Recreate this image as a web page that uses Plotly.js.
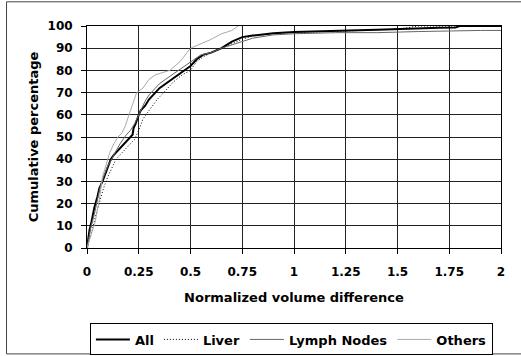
<!DOCTYPE html>
<html><head><meta charset="utf-8">
<script src="https://cdn.plot.ly/plotly-3.0.1.min.js"></script>
<style>html,body{margin:0;padding:0;background:#fff;}#chart{width:521px;height:356px;}</style>
</head><body><div id="chart"></div>
<script>
// All
const allX = [0, 0.005, 0.012, 0.02, 0.035, 0.05, 0.06, 0.075, 0.09, 0.1, 0.115, 0.13, 0.15, 0.17, 0.19, 0.21, 0.22, 0.225, 0.235, 0.25, 0.26, 0.28, 0.3, 0.32, 0.35, 0.38, 0.41, 0.44, 0.47, 0.5, 0.53, 0.56, 0.6, 0.65, 0.7, 0.75, 0.8, 0.85, 0.9, 1.0, 1.1, 1.2, 1.3, 1.4, 1.55, 1.6, 1.7, 1.78, 1.8, 1.9, 2.0];
const allY = [0, 4, 8, 11, 18, 23, 27, 30, 34, 37, 40, 42, 44, 46, 48, 50, 51, 54, 56, 60, 62, 64, 67, 69, 72, 74, 76, 78, 80, 82, 85, 87, 88, 90, 93, 95, 95.7, 96.3, 96.7, 97.3, 97.5, 98, 98, 98.3, 98.8, 99, 99.2, 99.3, 100, 100, 100];
// Liver
const liverX = [0, 0.01, 0.025, 0.04, 0.06, 0.08, 0.1, 0.12, 0.14, 0.17, 0.2, 0.23, 0.25, 0.27, 0.3, 0.34, 0.38, 0.42, 0.46, 0.5, 0.53, 0.56, 0.6, 0.65, 0.7, 0.75, 0.8, 0.9, 1.0, 1.2, 1.4, 1.5, 1.6, 1.75, 2.0];
const liverY = [0, 3, 8, 14, 21, 27, 32, 36, 40, 43, 46, 49, 53, 58, 62, 67, 71, 75, 78, 80, 84, 86, 88, 90, 92, 94, 95.5, 96.5, 97, 97.5, 98, 98.5, 100, 100, 100];
// Lymph Nodes
const lymphX = [0, 0.01, 0.02, 0.035, 0.05, 0.065, 0.08, 0.1, 0.12, 0.13, 0.16, 0.19, 0.21, 0.23, 0.25, 0.28, 0.3, 0.32, 0.35, 0.38, 0.41, 0.44, 0.47, 0.5, 0.55, 0.6, 0.65, 0.7, 0.75, 0.8, 0.9, 1.0, 1.2, 1.4, 1.6, 1.8, 1.9, 2.0];
const lymphY = [0, 5, 10, 15, 22, 28, 32, 37, 40, 42, 47, 51, 53, 56, 60, 66, 69, 71, 74, 76, 78, 80, 82, 84, 87, 88, 90, 91.5, 93, 94.5, 96, 96.5, 97, 97, 97.5, 98, 98, 98];
// Others
const othersX = [0, 0.01, 0.02, 0.03, 0.04, 0.05, 0.06, 0.075, 0.09, 0.11, 0.13, 0.15, 0.17, 0.185, 0.21, 0.24, 0.27, 0.3, 0.33, 0.36, 0.4, 0.45, 0.5, 0.55, 0.6, 0.65, 0.7, 0.73];
const othersY = [0, 3, 7, 10, 12, 17, 22, 32, 37, 43, 47, 50, 52, 55, 62, 70, 72, 76, 78, 79, 80, 84, 90, 92, 94, 96.5, 98, 100];

const xTicks = [0, 0.25, 0.5, 0.75, 1, 1.25, 1.5, 1.75, 2];
const xTickText = ['0', '0.25', '0.5', '0.75', '1', '1.25', '1.5', '1.75', '2'];
const yTicks = [0, 10, 20, 30, 40, 50, 60, 70, 80, 90, 100];

const F = 'DejaVu Sans, sans-serif';
const traces = [
  {x: allX, y: allY, name: 'All', mode: 'lines', line: {color: '#000', width: 2}},
  {x: liverX, y: liverY, name: 'Liver', mode: 'lines', line: {color: '#000', width: 1, dash: '1px,2px'}},
  {x: lymphX, y: lymphY, name: 'Lymph Nodes', mode: 'lines', line: {color: '#666', width: 1}},
  {x: othersX, y: othersY, name: 'Others', mode: 'lines', line: {color: '#aaa', width: 1}}
];
const layout = {
  width: 521, height: 356,
  margin: {l: 87, r: 20, t: 26, b: 108, autoexpand: false},
  paper_bgcolor: '#fff', plot_bgcolor: '#fff',
  font: {family: F, size: 12, color: '#000', weight: 'bold'},
  showlegend: true,
  legend: {orientation: 'h', x: 0.007, xanchor: 'left', y: -0.34, yanchor: 'top',
           bgcolor: '#fff', bordercolor: '#000', borderwidth: 1, itemwidth: 34,
           font: {family: F, size: 13, color: '#000', weight: 'bold'}},
  xaxis: {range: [0, 2], tickvals: xTicks, ticktext: xTickText, showgrid: true, gridcolor: '#222', gridwidth: 1,
          showline: true, linecolor: '#000', linewidth: 1, mirror: true, zeroline: false, automargin: false,
          ticks: 'outside', ticklen: 5, tickcolor: '#000', ticklabelstandoff: 8,
          tickfont: {family: F, size: 12, color: '#000', weight: 'bold'},
          title: {text: 'Normalized volume difference', font: {family: F, size: 13, color: '#000', weight: 'bold'}, standoff: 14}},
  yaxis: {range: [0, 100], tickvals: yTicks, showgrid: true, gridcolor: '#222', gridwidth: 1,
          showline: true, linecolor: '#000', linewidth: 1, mirror: true, zeroline: false, automargin: false,
          ticks: 'outside', ticklen: 5, tickcolor: '#000', ticklabelstandoff: 6,
          tickfont: {family: F, size: 12, color: '#000', weight: 'bold'},
          title: {text: 'Cumulative percentage', font: {family: F, size: 13, color: '#000', weight: 'bold'}, standoff: 5}},
  shapes: [{type: 'rect', xref: 'paper', yref: 'paper', x0: -0.1944, x1: 1.08, y0: -0.477, y1: 1.109,
            line: {color: '#444', width: 1}, fillcolor: 'rgba(0,0,0,0)', layer: 'below'}]
};
Plotly.newPlot('chart', traces, layout, {staticPlot: true, displayModeBar: false});
</script></body></html>
